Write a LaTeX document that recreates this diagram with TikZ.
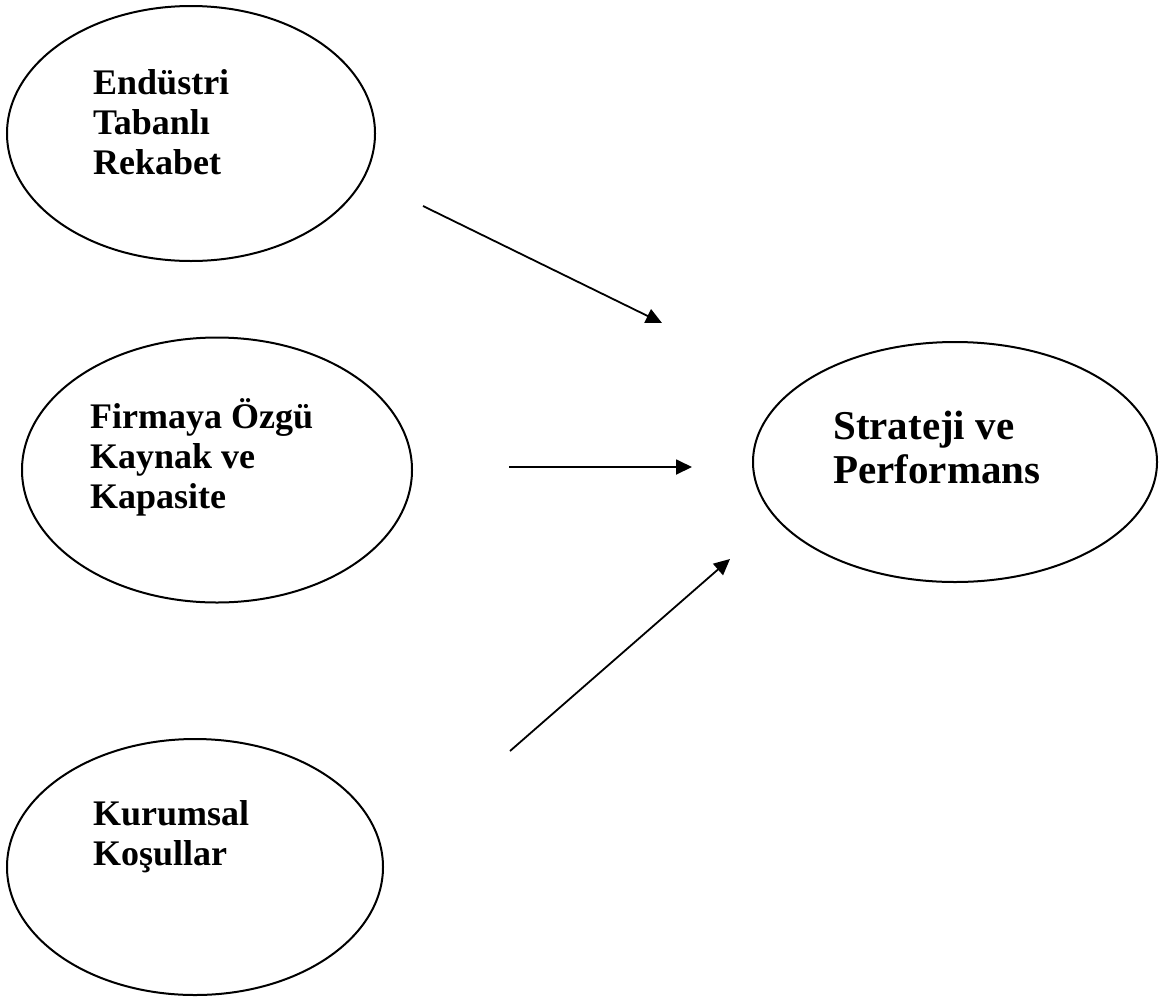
\documentclass[tikz,border=0pt]{standalone}
\usepackage{fontspec}
\setmainfont{Liberation Serif}
\usetikzlibrary{shapes.geometric,arrows.meta}
\tikzset{
  ell/.style={ellipse, draw=black, line width=2pt, inner sep=0pt},
  lbl/.style={inner sep=0pt, anchor=base west, align=left, font=\bfseries\fontsize{36}{40}\selectfont},
  biglbl/.style={lbl, font=\bfseries\fontsize{41}{44}\selectfont},
  arr/.style={line width=1.8pt, -{Triangle[length=16pt,width=15pt]}}
}
\begin{document}
\begin{tikzpicture}[x=1pt,y=-1pt]
\useasboundingbox (0,0) rectangle (1166,999);
\node[ell, minimum width=368pt, minimum height=255pt] (e1) at (191,133.5) {};
\node[ell, minimum width=390pt, minimum height=265pt] (e2) at (217,470) {};
\node[ell, minimum width=376pt, minimum height=256pt] (e3) at (195,867) {};
\node[ell, minimum width=404pt, minimum height=240pt] (e4) at (955,462) {};
\node[lbl] (t1) at (93,174) {Endüstri\\Tabanlı\\Rekabet};
\node[lbl] (t2) at (90,508) {Firmaya Özgü\\Kaynak ve\\Kapasite};
\node[lbl] (t3) at (93,865) {Kurumsal\\Koşullar};
\node[biglbl] (t4) at (833,483) {Strateji ve\\Performans};
\coordinate (a1s) at (423,206);
\coordinate (a1e) at (662,323);
\coordinate (a2s) at (509,467);
\coordinate (a2e) at (692,467);
\coordinate (a3s) at (510,751);
\coordinate (a3e) at (730,559);
\draw[arr] (a1s) -- (a1e);
\draw[arr] (a2s) -- (a2e);
\draw[arr] (a3s) -- (a3e);
\end{tikzpicture}
\end{document}
